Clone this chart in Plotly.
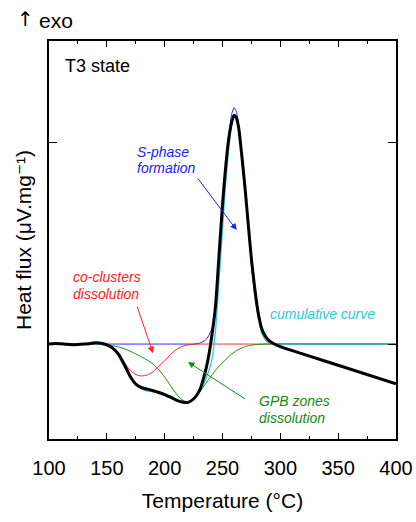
import plotly.graph_objects as go

# ---- fitted components, common temperature grid (°C) ----
T_fit = [100, 140, 145, 150, 155, 160, 165, 170, 175, 180, 185, 190, 195, 200, 205, 210,
         215, 220, 225, 230, 235, 238, 241, 244, 247, 250, 252, 254, 256, 258, 260, 262,
         264, 266, 268, 270, 272, 275, 278, 281, 284, 287, 290, 295, 300, 400]

s_phase = [0, 0, 0, 0, 0, 0, 0, 0, 0, 0, 0, 0, 0, 0, 0, 0,
           0, 0, 0, 0.004, 0.018, 0.04, 0.08, 0.2, 0.42, 0.66, 0.82, 0.95, 1.06, 1.14, 1.17, 1.15,
           1.08, 0.98, 0.85, 0.73, 0.61, 0.4, 0.24, 0.13, 0.055, 0.022, 0.008, 0.001, 0, 0]

co_clusters = [0, 0, 0, -0.003, -0.012, -0.043, -0.09, -0.13, -0.151, -0.158, -0.153, -0.137, -0.11, -0.082, -0.052, -0.028,
               -0.012, -0.004, -0.001, 0, 0, 0, 0, 0, 0, 0, 0, 0, 0, 0, 0, 0,
               0, 0, 0, 0, 0, 0, 0, 0, 0, 0, 0, 0, 0, 0]

gpb_zones = [0, 0, -0.001, -0.004, -0.008, -0.014, -0.023, -0.035, -0.049, -0.064, -0.08, -0.099, -0.127, -0.164, -0.205, -0.246,
             -0.276, -0.287, -0.27, -0.238, -0.2, -0.175, -0.152, -0.13, -0.11, -0.092, -0.081, -0.07, -0.059, -0.049, -0.041, -0.033,
             -0.027, -0.021, -0.016, -0.012, -0.009, -0.006, -0.003, -0.002, -0.001, 0, 0, 0, 0, 0]

cumulative = [a + b + c for a, b, c in zip(s_phase, co_clusters, gpb_zones)]

# ---- measured DSC curve ----
T_meas = [100, 105, 110, 115, 120, 125, 130, 135, 140, 145, 150, 155, 160, 165, 170, 175,
          180, 185, 190, 195, 200, 205, 210, 215, 220, 225, 230, 235, 238, 241, 244, 247,
          250, 252, 254, 256, 258, 260, 262, 264, 266, 268, 270, 272, 275, 278, 281, 284,
          287, 290, 294, 300, 350, 400]
heat_flux = [0.0, 0.003, 0.002, -0.001, -0.003, -0.002, 0.0, 0.002, 0.006, 0.004, -0.004, -0.02, -0.05, -0.1, -0.158, -0.198,
             -0.216, -0.223, -0.231, -0.24, -0.25, -0.263, -0.277, -0.287, -0.289, -0.272, -0.232, -0.14, -0.06, 0.05, 0.19, 0.44,
             0.69, 0.83, 0.95, 1.04, 1.1, 1.133, 1.12, 1.07, 0.97, 0.86, 0.74, 0.61, 0.42, 0.27, 0.15, 0.075,
             0.04, 0.018, 0.003, -0.013, -0.105, -0.197]

x_ticks = [100, 150, 200, 250, 300, 350, 400]

BLUE = "#2020ff"
RED = "#ff2020"
GREEN = "#128a12"
CYAN = "#30c8e0"
FONT = "Liberation Sans, Arial, DejaVu Sans, sans-serif"

fig = go.Figure()
fig.add_trace(go.Scatter(x=T_fit, y=s_phase, mode="lines", line=dict(color=BLUE, width=1, shape="spline", smoothing=0.5)))
fig.add_trace(go.Scatter(x=T_fit, y=co_clusters, mode="lines", line=dict(color=RED, width=1, shape="spline", smoothing=0.5)))
fig.add_trace(go.Scatter(x=T_fit, y=gpb_zones, mode="lines", line=dict(color=GREEN, width=1, shape="spline", smoothing=0.5)))
fig.add_trace(go.Scatter(x=T_fit, y=cumulative, mode="lines", line=dict(color=CYAN, width=1.3, shape="spline", smoothing=0.5)))
fig.add_trace(go.Scatter(x=T_meas, y=heat_flux, mode="lines", line=dict(color="black", width=3, shape="spline", smoothing=0.5)))

def txt(x, y, s, color, size=14, italic=True, anchor="left"):
    fig.add_annotation(x=x, y=y, xref="x", yref="y", text=s, showarrow=False,
                       xanchor=anchor, yanchor="middle",
                       font=dict(family=FONT, size=size, color=color,
                                 style="italic" if italic else "normal"))

def arrow(x, y, ax, ay, color):
    fig.add_annotation(x=x, y=y, ax=ax, ay=ay, xref="x", yref="y", axref="x", ayref="y",
                       text="", showarrow=True, arrowhead=2, arrowsize=1.3, arrowwidth=1,
                       arrowcolor=color)

txt(112.1, 1.376, "T3 state", "black", size=18, italic=False)
txt(174.4, 0.952, "S-phase", BLUE)
txt(174.4, 0.871, "formation", BLUE)
arrow(262.3, 0.564, 227.7, 0.827, BLUE)
txt(119.0, 0.333, "co-clusters", RED)
txt(119.0, 0.246, "dissolution", RED)
arrow(189.9, -0.045, 175.8, 0.193, RED)
txt(279.8, -0.282, "GPB zones", GREEN)
txt(279.8, -0.365, "dissolution", GREEN)
arrow(220.2, -0.089, 270.9, -0.277, GREEN)
txt(289.6, 0.149, "cumulative curve", CYAN)

fig.add_annotation(x=0, y=1, xref="paper", yref="paper", xshift=-24, yshift=22,
                   text="↑", showarrow=False, xanchor="center", yanchor="middle",
                   font=dict(family="DejaVu Sans, sans-serif", size=20, color="black"))
fig.add_annotation(x=0, y=1, xref="paper", yref="paper", xshift=-12, yshift=21,
                   text="exo", showarrow=False, xanchor="left", yanchor="middle",
                   font=dict(family=FONT, size=21, color="black"))

fig.update_layout(
    width=416, height=522,
    margin=dict(l=49, r=20, t=41, b=83, autoexpand=False),
    paper_bgcolor="white", plot_bgcolor="white",
    showlegend=False,
    font=dict(family=FONT, color="black"),
)
fig.update_xaxes(range=[100, 400], tickvals=x_ticks, ticks="inside", ticklen=6, tickwidth=1,
                 tickcolor="black", showline=True, linecolor="black", linewidth=1.5,
                 mirror="ticks", showgrid=False, zeroline=False, automargin=False,
                 tickfont=dict(family=FONT, size=20, color="black"), ticklabelstandoff=10,
                 title=dict(text="Temperature (°C)", font=dict(family=FONT, size=21, color="black"), standoff=16),
                 minor=dict(dtick=25, tick0=100, ticks="inside", ticklen=3.5, tickcolor="black", showgrid=False))
fig.update_yaxes(range=[-0.47, 1.5], tickvals=[0, 1], ticks="inside", ticklen=8, tickwidth=1,
                 tickcolor="black", showline=True, linecolor="black", linewidth=1.5,
                 mirror="ticks", showgrid=False, zeroline=False, showticklabels=False, automargin=False,
                 title=dict(text="Heat flux (μV.mg⁻¹)", font=dict(family=FONT, size=21, color="black"), standoff=10))

fig.write_html("out.html")
